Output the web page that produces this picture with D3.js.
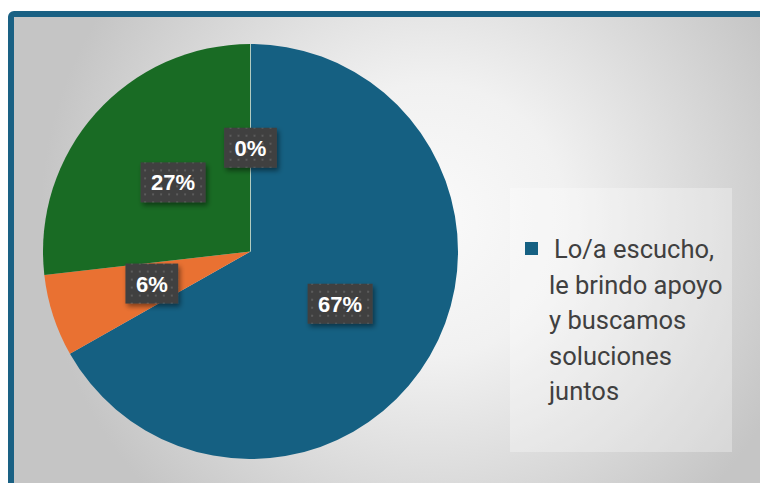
<!DOCTYPE html>
<html>
<head>
<meta charset="utf-8">
<script src="https://d3js.org/d3.v7.min.js"></script>
<style>
  html, body { margin: 0; padding: 0; background: #fff; }
  svg { display: block; }
</style>
</head>
<body>
<svg id="chart" width="760" height="483"></svg>
<script>
// chart data
const categories = ["Lo/a escucho, le brindo apoyo y buscamos soluciones juntos", "Opción 2", "Opción 3", "Opción 4"];
const shares = [66.8, 6.4, 26.8, 0];
const pctLabels = ["67%", "6%", "27%", "0%"];
const sliceColors = ["#156082", "#E97132", "#196B24", "#0F9ED5"];
const legendLines = ["Lo/a escucho,", "le brindo apoyo", "y buscamos", "soluciones", "juntos"];

const width = 760, height = 483;
const svg = d3.select('#chart');
const defs = svg.append('defs');

// background gradient
const grad = defs.append('radialGradient')
    .attr('id', 'bgGrad')
    .attr('gradientUnits', 'userSpaceOnUse')
    .attr('cx', 430).attr('cy', 220).attr('r', 390);
grad.append('stop').attr('offset', '0').attr('stop-color', '#fafafa');
grad.append('stop').attr('offset', '0.35').attr('stop-color', '#f1f1f1');
grad.append('stop').attr('offset', '1').attr('stop-color', '#c5c5c5');

// dotted label fill
const pat = defs.append('pattern')
    .attr('id', 'dots')
    .attr('patternUnits', 'userSpaceOnUse')
    .attr('width', 8).attr('height', 8);
pat.append('rect').attr('width', 8).attr('height', 8).attr('fill', '#404040');
pat.append('rect').attr('x', 3).attr('y', 3).attr('width', 2).attr('height', 2).attr('fill', '#5c5c5c');

const shadow = defs.append('filter').attr('id', 'shadow')
    .attr('x', '-30%').attr('y', '-30%').attr('width', '160%').attr('height', '180%');
shadow.append('feDropShadow')
    .attr('dx', 2).attr('dy', 3).attr('stdDeviation', 2.5)
    .attr('flood-color', '#000').attr('flood-opacity', 0.45);

// frame
svg.append('rect')
    .attr('x', 11).attr('y', 14)
    .attr('width', 770).attr('height', 490)
    .attr('rx', 3)
    .attr('fill', 'url(#bgGrad)')
    .attr('stroke', '#1a6184')
    .attr('stroke-width', 6);

// pie
const cx = 250.5, cy = 251.5, radius = 207.5;
const color = d3.scaleOrdinal().domain(categories).range(sliceColors);

const data = categories.map((c, i) => ({ name: c, value: shares[i], label: pctLabels[i] }));
const pie = d3.pie().sort(null).value(d => d.value).startAngle(0).endAngle(2 * Math.PI);
const arc = d3.arc().innerRadius(0).outerRadius(radius);
const arcs = pie(data);

const pieG = svg.append('g').attr('transform', `translate(${cx},${cy})`);
pieG.selectAll('path.slice')
    .data(arcs)
    .enter().append('path')
    .attr('class', 'slice')
    .attr('d', arc)
    .attr('fill', d => color(d.data.name))
    .attr('stroke', 'rgba(255,255,255,0.35)')
    .attr('stroke-width', d => d.data.value === 0 ? 1 : 0);

// data labels
const labelG = pieG.selectAll('g.lbl')
    .data(arcs)
    .enter().append('g')
    .attr('class', 'lbl')
    .attr('transform', d => `translate(${arc.centroid(d)})`);

labelG.append('text')
    .attr('text-anchor', 'middle')
    .attr('y', 8)
    .attr('fill', '#ffffff')
    .style('font-family', '"Liberation Sans", Arial, sans-serif')
    .style('font-weight', 'bold')
    .style('font-size', '22px')
    .text(d => d.data.label);

labelG.each(function () {
    const g = d3.select(this);
    const w = g.select('text').node().getComputedTextLength() + 21;
    g.insert('rect', 'text')
        .attr('x', -w / 2).attr('y', -20)
        .attr('width', w).attr('height', 40)
        .attr('fill', 'url(#dots)')
        .attr('filter', 'url(#shadow)');
});

// legend
const legendG = svg.append('g');
legendG.append('rect')
    .attr('x', 510).attr('y', 188)
    .attr('width', 222).attr('height', 264)
    .attr('fill', 'rgba(255,255,255,0.3)');

legendG.append('rect')
    .attr('x', 525).attr('y', 242)
    .attr('width', 13).attr('height', 13)
    .attr('fill', color(categories[0]));

legendG.append('text')
    .attr('fill', '#404040')
    .style('font-family', 'Roboto, "Noto Sans", sans-serif')
    .style('font-size', '25.5px')
    .selectAll('tspan')
    .data(legendLines)
    .enter().append('tspan')
    .attr('x', (d, i) => i === 0 ? 554 : 549)
    .attr('y', (d, i) => 258 + i * 35.5)
    .text(d => d);
</script>
</body>
</html>
